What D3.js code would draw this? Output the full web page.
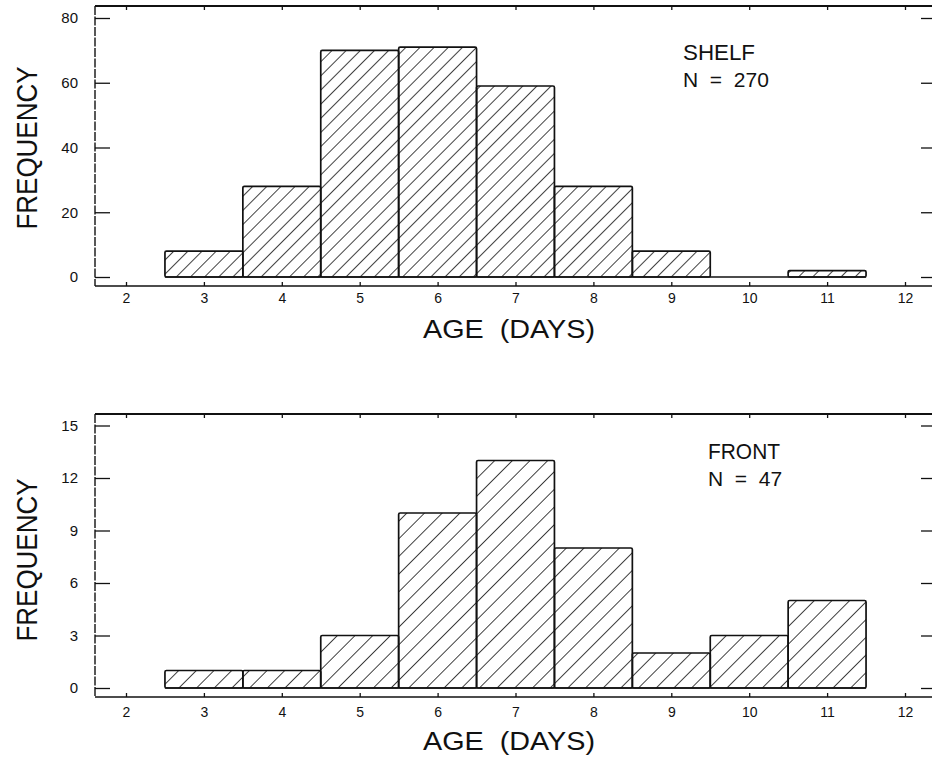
<!DOCTYPE html>
<html>
<head>
<meta charset="utf-8">
<script src="https://cdn.jsdelivr.net/npm/d3@7"></script>
<style>
  body { margin: 0; background: #fff; }
  svg { display: block; }
  text { font-family: "Liberation Sans", "DejaVu Sans", sans-serif; fill: #111; }
</style>
</head>
<body>
<svg id="chart" width="932" height="760"></svg>
<script>
// ages (bin centres, days)
const ages = [3, 4, 5, 6, 7, 8, 9, 10, 11];
const shelfFreq = [8, 28, 70, 71, 59, 28, 8, 0, 2];
const frontFreq = [1, 1, 3, 10, 13, 8, 2, 3, 5];
const xTicks = [2, 3, 4, 5, 6, 7, 8, 9, 10, 11, 12];
const shelfYTicks = [0, 20, 40, 60, 80];
const frontYTicks = [0, 3, 6, 9, 12, 15];

const svg = d3.select('#chart');
const defs = svg.append('defs');

// diagonal hatch patterns
function addHatch(id, gap) {
  const p = defs.append('pattern')
    .attr('id', id)
    .attr('patternUnits', 'userSpaceOnUse')
    .attr('width', gap)
    .attr('height', gap)
    .attr('patternTransform', 'rotate(45)');
  p.append('line')
    .attr('x1', 0).attr('y1', 0)
    .attr('x2', 0).attr('y2', gap)
    .attr('stroke', '#111')
    .attr('stroke-width', 1.6);
}
addHatch('hatchTop', 10);
addHatch('hatchBottom', 12.5);

function drawPanel(cfg) {
  const x = d3.scaleLinear().domain([2, 12]).range([126, 905]);
  const y = d3.scaleLinear().domain([0, cfg.yMax]).range([cfg.y0, cfg.yTop]);

  const g = svg.append('g');

  // baseline under the bars (shows where a bin is empty)
  g.append('line')
    .attr('x1', x(ages[0] - 0.5))
    .attr('x2', x(ages[ages.length - 1] + 0.5))
    .attr('y1', y(0)).attr('y2', y(0))
    .attr('stroke', '#111').attr('stroke-width', 1.6);

  // bars
  g.selectAll('.bar')
    .data(cfg.values.map((v, i) => ({ age: ages[i], v })).filter((d) => d.v > 0))
    .enter()
    .append('rect')
    .attr('class', 'bar')
    .attr('x', (d) => x(d.age - 0.5))
    .attr('width', (d) => x(d.age + 0.5) - x(d.age - 0.5))
    .attr('y', (d) => y(d.v))
    .attr('height', (d) => y(0) - y(d.v))
    .attr('fill', `url(#${cfg.hatch})`)
    .attr('stroke', '#111')
    .attr('stroke-width', 1.7)
    .attr('rx', 1.5);

  // left axis
  const left = g.append('g')
    .attr('transform', `translate(${cfg.left}, 0)`)
    .call(d3.axisLeft(y).tickValues(cfg.yTicks).tickSize(-15).tickSizeOuter(0).tickPadding(17));
  left.select('.domain').remove();
  left.selectAll('text').style('font-size', '15px');
  left.selectAll('line').attr('stroke', '#111').attr('stroke-width', 1.3);

  // right axis (ticks only)
  const right = g.append('g')
    .attr('transform', `translate(${cfg.right}, 0)`)
    .call(d3.axisRight(y).tickValues(cfg.yTicks).tickSize(-13).tickSizeOuter(0).tickFormat(''));
  right.select('.domain').remove();
  right.selectAll('line').attr('stroke', '#111').attr('stroke-width', 1.3);

  // bottom axis
  const bottom = g.append('g')
    .attr('transform', `translate(0, ${cfg.bottom})`)
    .call(d3.axisBottom(x).tickValues(xTicks).tickSize(-4).tickSizeOuter(0).tickPadding(cfg.xPad));
  bottom.select('.domain').remove();
  bottom.selectAll('text').style('font-size', '14px');
  bottom.selectAll('line').attr('stroke', '#111').attr('stroke-width', 1.3);

  // top axis (ticks only)
  const top = g.append('g')
    .attr('transform', `translate(0, ${cfg.top})`)
    .call(d3.axisTop(x).tickValues(xTicks).tickSize(-4).tickSizeOuter(0).tickFormat(''));
  top.select('.domain').remove();
  top.selectAll('line').attr('stroke', '#111').attr('stroke-width', 1.3);

  // frame
  g.append('line')
    .attr('x1', cfg.left).attr('x2', cfg.right)
    .attr('y1', cfg.top).attr('y2', cfg.top)
    .attr('stroke', '#111').attr('stroke-width', 2);
  g.append('line')
    .attr('x1', cfg.left).attr('x2', cfg.right)
    .attr('y1', cfg.bottom).attr('y2', cfg.bottom)
    .attr('stroke', '#111').attr('stroke-width', 1.6);
  g.append('line')
    .attr('x1', cfg.left).attr('x2', cfg.left)
    .attr('y1', cfg.top).attr('y2', cfg.bottom)
    .attr('stroke', '#111').attr('stroke-width', 1.4)
    .attr('stroke-dasharray', '9,1.5');
  g.append('line')
    .attr('x1', cfg.right).attr('x2', cfg.right)
    .attr('y1', cfg.top).attr('y2', cfg.bottom)
    .attr('stroke', '#111').attr('stroke-width', 1.4);

  // y label
  g.append('text')
    .attr('transform', `translate(37, ${cfg.yLabelMid}) rotate(-90)`)
    .attr('text-anchor', 'middle')
    .attr('textLength', 163)
    .attr('lengthAdjust', 'spacingAndGlyphs')
    .style('font-size', '29px')
    .text('FREQUENCY');

  // x label
  g.append('text')
    .attr('x', 423)
    .attr('y', cfg.xLabelY)
    .attr('textLength', 172)
    .attr('lengthAdjust', 'spacingAndGlyphs')
    .style('font-size', '25px')
    .style('white-space', 'pre')
    .text('AGE  (DAYS)');

  // annotation
  g.append('text')
    .attr('x', cfg.noteX)
    .attr('y', cfg.noteY)
    .attr('textLength', cfg.noteW)
    .attr('lengthAdjust', 'spacingAndGlyphs')
    .style('font-size', '22px')
    .text(cfg.name);
  g.append('text')
    .attr('x', cfg.noteX)
    .attr('y', cfg.noteY + 27)
    .style('font-size', '21px')
    .style('white-space', 'pre')
    .text(cfg.nLabel);
}

drawPanel({
  values: shelfFreq, yTicks: shelfYTicks, yMax: 80,
  y0: 277, yTop: 18, top: 6, bottom: 286, left: 95, right: 934,
  xPad: 7, hatch: 'hatchTop', yLabelMid: 148, xLabelY: 338,
  name: 'SHELF', nLabel: 'N  =  270', noteX: 683, noteY: 60, noteW: 72
});

drawPanel({
  values: frontFreq, yTicks: frontYTicks, yMax: 15,
  y0: 688, yTop: 425.5, top: 414, bottom: 697, left: 95, right: 934,
  xPad: 10, hatch: 'hatchBottom', yLabelMid: 560, xLabelY: 750,
  name: 'FRONT', nLabel: 'N  =  47', noteX: 708, noteY: 459, noteW: 72
});
</script>
</body>
</html>
